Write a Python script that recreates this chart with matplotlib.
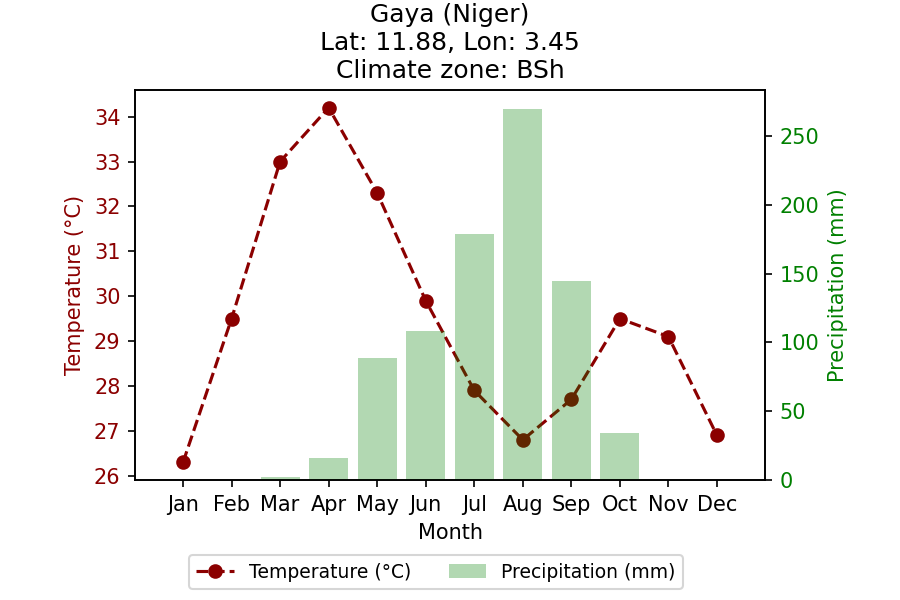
import matplotlib
matplotlib.use("Agg")
import matplotlib.pyplot as plt

months = ["Jan", "Feb", "Mar", "Apr", "May", "Jun", "Jul", "Aug", "Sep", "Oct", "Nov", "Dec"]
temperature = [26.3, 29.5, 33.0, 34.2, 32.3, 29.9, 27.9, 26.8, 27.7, 29.5, 29.1, 26.9]
precipitation = [0, 0, 2, 16, 89, 108, 179, 270, 145, 34, 0, 0]

fig = plt.figure(figsize=(6, 4), dpi=150)
ax = fig.add_axes([0.15, 0.2, 0.7, 0.65])
x = list(range(len(months)))
l1, = ax.plot(x, temperature, color="darkred", linestyle="--", marker="o",
              label="Temperature (°C)")
ax.set_ylabel("Temperature (°C)", color="darkred")
ax.tick_params(axis="y", labelcolor="darkred")
ax.set_xlabel("Month")
ax.set_xticks(x)
ax.set_xticklabels(months)

ax2 = ax.twinx()
b = ax2.bar(x, precipitation, color="green", alpha=0.3, label="Precipitation (mm)")
ax2.set_ylabel("Precipitation (mm)", color="green")
ax2.tick_params(axis="y", labelcolor="green")

ax.set_title("Gaya (Niger)\nLat: 11.88, Lon: 3.45\nClimate zone: BSh")

fig.legend([l1, b], ["Temperature (°C)", "Precipitation (mm)"], loc="center",
           bbox_to_anchor=(436 / 900, 1 - 572 / 600), ncol=2, fontsize=9)

fig.savefig("out.png", dpi=150)
